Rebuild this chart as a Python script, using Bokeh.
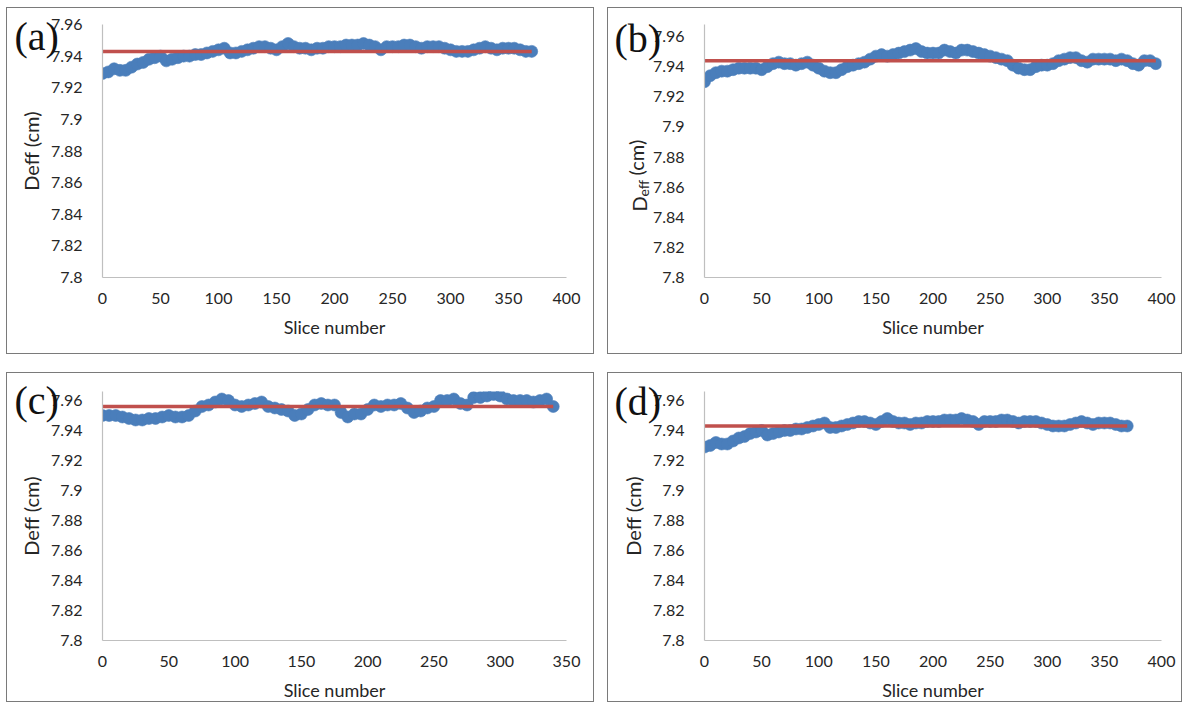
import math
from bokeh.plotting import figure
from bokeh.layouts import row, column
from bokeh.models import Range1d, FixedTicker, CustomJSTickFormatter, Title
from bokeh.embed import file_html
from bokeh.resources import INLINE

# ---------------- data ----------------
slice_step = 5

deff_a = [7.929, 7.930, 7.932, 7.931, 7.931, 7.933, 7.935, 7.936, 7.938, 7.939,
          7.940, 7.937, 7.938, 7.939, 7.940, 7.940, 7.941, 7.941, 7.942, 7.943,
          7.944, 7.945, 7.942, 7.942, 7.943, 7.944, 7.945, 7.946, 7.946, 7.945,
          7.944, 7.946, 7.948, 7.946, 7.945, 7.945, 7.944, 7.945, 7.945, 7.946,
          7.946, 7.946, 7.947, 7.947, 7.947, 7.948, 7.947, 7.946, 7.944, 7.946,
          7.946, 7.946, 7.947, 7.947, 7.946, 7.945, 7.946, 7.946, 7.946, 7.945,
          7.944, 7.943, 7.943, 7.943, 7.944, 7.945, 7.946, 7.945, 7.944, 7.945,
          7.945, 7.945, 7.944, 7.943, 7.943]
mean_a = 7.943

deff_b = [7.930, 7.934, 7.936, 7.937, 7.937, 7.938, 7.939, 7.939, 7.939, 7.939,
          7.938, 7.940, 7.942, 7.943, 7.942, 7.942, 7.941, 7.942, 7.943, 7.941,
          7.939, 7.937, 7.936, 7.936, 7.938, 7.940, 7.941, 7.942, 7.943, 7.945,
          7.947, 7.948, 7.947, 7.948, 7.949, 7.950, 7.951, 7.952, 7.950, 7.949,
          7.949, 7.949, 7.951, 7.950, 7.949, 7.951, 7.951, 7.950, 7.949, 7.948,
          7.947, 7.946, 7.945, 7.944, 7.941, 7.939, 7.938, 7.938, 7.940, 7.941,
          7.941, 7.942, 7.944, 7.945, 7.946, 7.946, 7.944, 7.943, 7.945, 7.945,
          7.945, 7.945, 7.944, 7.945, 7.944, 7.942, 7.941, 7.944, 7.944, 7.942]
mean_b = 7.944

deff_c = [7.950, 7.950, 7.950, 7.949, 7.948, 7.947, 7.947, 7.948, 7.948, 7.949,
          7.950, 7.949, 7.949, 7.950, 7.953, 7.956, 7.957, 7.959, 7.961, 7.960,
          7.957, 7.956, 7.957, 7.958, 7.959, 7.956, 7.955, 7.954, 7.953, 7.950,
          7.951, 7.954, 7.957, 7.958, 7.957, 7.957, 7.952, 7.949, 7.951, 7.951,
          7.954, 7.957, 7.956, 7.957, 7.957, 7.958, 7.955, 7.952, 7.953, 7.955,
          7.956, 7.960, 7.960, 7.961, 7.958, 7.957, 7.962, 7.962, 7.963, 7.964,
          7.963, 7.961, 7.960, 7.960, 7.960, 7.959, 7.960, 7.961, 7.956]
mean_c = 7.956

deff_d = [7.929, 7.930, 7.932, 7.931, 7.931, 7.933, 7.935, 7.936, 7.938, 7.939,
          7.940, 7.937, 7.938, 7.939, 7.940, 7.940, 7.941, 7.941, 7.942, 7.943,
          7.944, 7.945, 7.942, 7.942, 7.943, 7.944, 7.945, 7.946, 7.946, 7.945,
          7.944, 7.946, 7.948, 7.946, 7.945, 7.945, 7.944, 7.945, 7.945, 7.946,
          7.946, 7.946, 7.947, 7.947, 7.947, 7.948, 7.947, 7.946, 7.944, 7.946,
          7.946, 7.946, 7.947, 7.947, 7.946, 7.945, 7.946, 7.946, 7.946, 7.945,
          7.944, 7.943, 7.943, 7.943, 7.944, 7.945, 7.946, 7.945, 7.944, 7.945,
          7.945, 7.945, 7.944, 7.943, 7.943]
mean_d = 7.943

x_ticks_400 = [0, 50, 100, 150, 200, 250, 300, 350, 400]
x_ticks_350 = [0, 50, 100, 150, 200, 250, 300, 350]
y_ticks = [7.8, 7.82, 7.84, 7.86, 7.88, 7.9, 7.92, 7.94, 7.96]
panel_tags = ["(a)", "(b)", "(c)", "(d)"]
x_title = "Slice number"
y_title = "Deff (cm)"
y_title_parts = ["D", "(cm)", "eff"]   # panel (b): D with subscript eff

# ---------------- styling ----------------
BLUE = "#4A7EBB"
RED = "#C0504D"
AXIS = "#BFBFBF"
TXT = "#262626"
FONT = "Lato"


def make_panel(deff, mean, xmax, xticks, ytop, W, H, bl, br, bt, bb, tag,
               tag_offset, tag_standoff, sub_label=False):
    p = figure(width=W, height=H, x_range=Range1d(0, xmax),
               y_range=Range1d(7.8, ytop), output_backend="svg",
               toolbar_location=None, min_border_left=bl, min_border_right=br,
               min_border_top=bt, min_border_bottom=bb)
    p.styles = {"border": "1px solid #7a7a7a"}
    p.xgrid.visible = False
    p.ygrid.visible = False
    p.outline_line_color = None
    p.background_fill_color = "white"
    p.border_fill_color = "white"

    slices = list(range(0, slice_step * len(deff), slice_step))
    p.scatter(slices, deff, size=12, fill_color=BLUE, line_color=BLUE,
              line_width=0.6)
    p.line([slices[0], slices[-1]], [mean, mean], line_color=RED,
           line_width=3.5)

    p.xaxis.ticker = FixedTicker(ticks=xticks)
    p.yaxis.ticker = FixedTicker(ticks=y_ticks)
    p.yaxis.formatter = CustomJSTickFormatter(
        code="return String(Number(tick.toFixed(2)))")
    for ax in (p.xaxis[0], p.yaxis[0]):
        ax.major_tick_line_color = None
        ax.minor_tick_line_color = None
        ax.axis_line_color = AXIS
        ax.axis_line_width = 1.2
        ax.major_label_text_font = FONT
        ax.major_label_text_font_size = "16px"
        ax.major_label_text_color = TXT
        ax.axis_label_text_font = FONT
        ax.axis_label_text_font_style = "normal"
        ax.axis_label_text_color = TXT
    p.xaxis.axis_label_text_font_size = "18px"
    p.yaxis.axis_label_text_font_size = "20px"
    p.xaxis.axis_label = x_title
    p.xaxis.major_label_standoff = 9
    p.xaxis.axis_label_standoff = 9
    p.yaxis.major_label_standoff = 14
    p.yaxis.axis_label_standoff = 5

    # panel tag, as a title drawn down into the top-left corner
    p.add_layout(Title(text=tag, align="left", vertical_align="bottom",
                       offset=tag_offset, standoff=tag_standoff,
                       text_font="Liberation Serif", text_font_size="40px",
                       text_font_style="normal", text_color="#111111"),
                 "above")

    if sub_label:
        p.yaxis.axis_label = None
        fb = H - bb
        # (text, font px, standoff, offset from frame bottom)
        specs = [(y_title_parts[0], 20, -3, fb - 203),
                 (y_title_parts[1], 20, -43, fb - 167),
                 (y_title_parts[2], 14, -51, fb - 188)]
        for txt, fs, so, off in specs:
            p.add_layout(Title(text=txt, align="left", vertical_align="bottom",
                               offset=off, standoff=so, text_font=FONT,
                               text_font_size=f"{fs}px",
                               text_font_style="normal", text_color=TXT),
                         "left")
    else:
        p.yaxis.axis_label = y_title
    return p


pa = make_panel(deff_a, mean_a, 400, x_ticks_400, 7.96, 588, 347,
                95, 29, 13, 78, panel_tags[0], -88, -68)
pb = make_panel(deff_b, mean_b, 400, x_ticks_400, 7.968, 575, 347,
                96, 22, 16, 78, panel_tags[1], -90, -72, sub_label=True)
pc = make_panel(deff_c, mean_c, 350, x_ticks_350, 7.966, 588, 330,
                95, 29, 18, 63, panel_tags[2], -88, -62)
pd = make_panel(deff_d, mean_d, 400, x_ticks_400, 7.966, 575, 330,
                96, 22, 18, 63, panel_tags[3], -90, -64)

layout = column(row(pa, pb, spacing=13), row(pc, pd, spacing=13),
                spacing=18, margin=(7, 0, 0, 6))

open("out.html", "w").write(file_html(layout, INLINE))
